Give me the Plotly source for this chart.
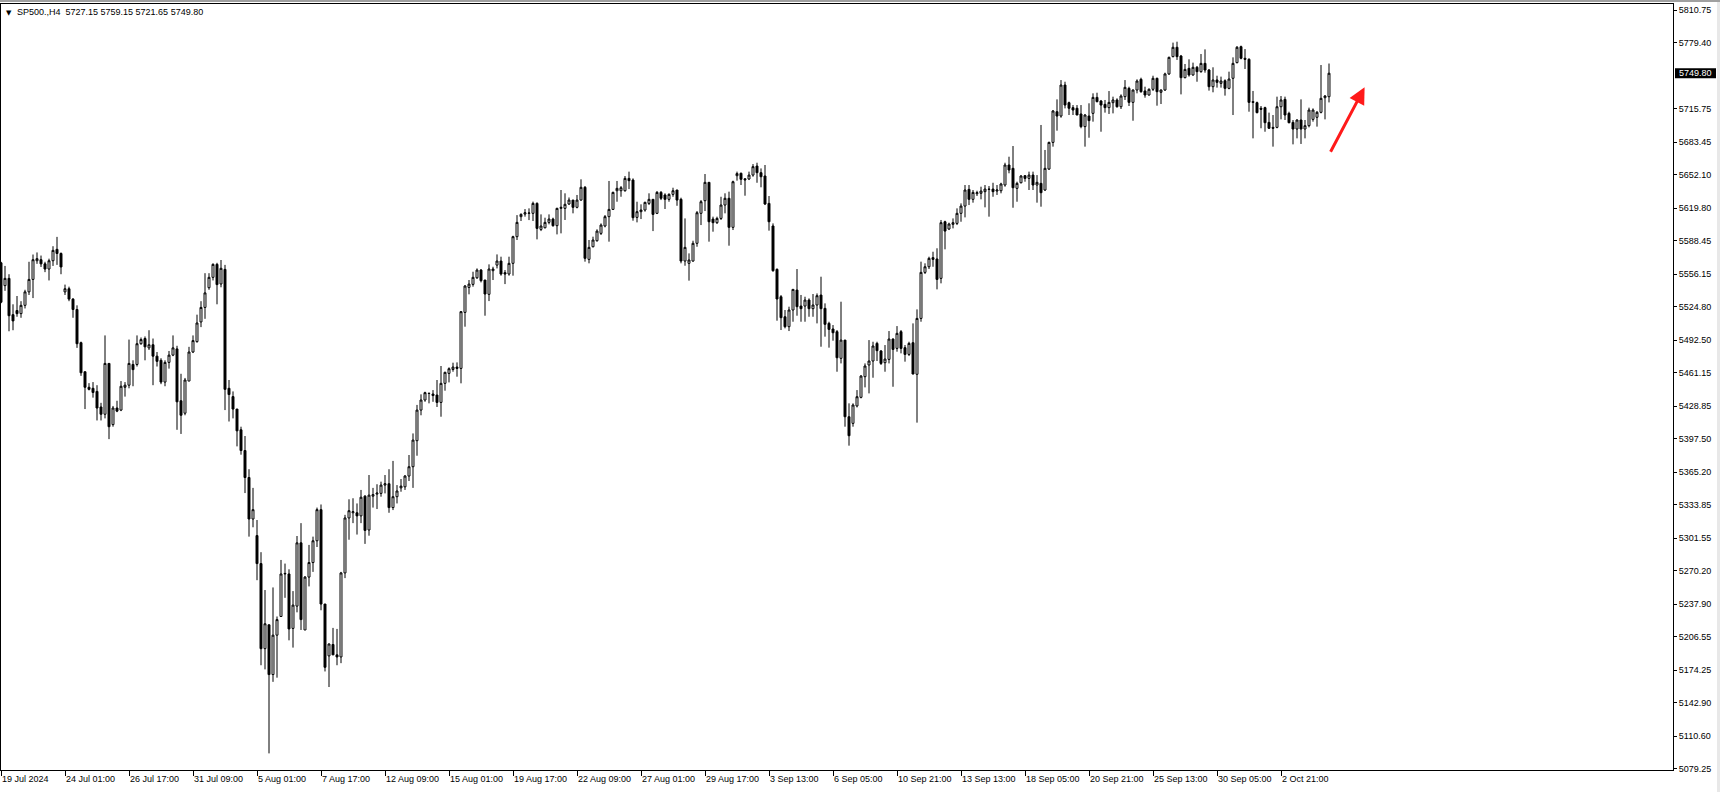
import plotly.graph_objects as go

symbol = "SP500.,H4"

open_ = [
    5567, 5545, 5552, 5517, 5521, 5518, 5526, 5539, 5551, 5569,
    5570, 5566, 5561, 5569, 5580, 5576, 5539, 5542, 5532, 5522,
    5490, 5462, 5447, 5446, 5443, 5428, 5421, 5470, 5411, 5427,
    5425, 5447, 5449, 5469, 5469, 5489, 5494, 5485, 5488, 5477,
    5473, 5452, 5471, 5478, 5484, 5434, 5422, 5453, 5481, 5491,
    5510, 5524, 5543, 5553, 5565.5, 5546.6, 5560.7, 5446, 5438, 5426,
    5406, 5386, 5360, 5320, 5304, 5277, 5195, 5218, 5170, 5208,
    5226, 5267, 5267, 5214.5, 5236, 5297, 5213, 5264, 5278, 5299,
    5329, 5238, 5188, 5199, 5189, 5187, 5268, 5321, 5326, 5326,
    5323, 5342, 5309.4, 5342, 5344, 5344.7, 5352.7, 5354, 5331, 5341.5,
    5350, 5351, 5361.4, 5370.4, 5395.5, 5425, 5434.7, 5441, 5440.5, 5439.5,
    5432.4, 5450.8, 5460.4, 5464.2, 5466.5, 5465.2, 5519.2, 5543.3, 5546.2, 5552.6,
    5560, 5550.4, 5536.6, 5559.4, 5564.8, 5568.7, 5557.5, 5556.2, 5566.5, 5592.2,
    5611.5, 5614, 5614.7, 5614.7, 5624.3, 5599.2, 5600.8, 5606, 5609.2, 5602.8,
    5619.5, 5619.5, 5623.7, 5627.5, 5620.5, 5627.5, 5639.8, 5570.3, 5582.5, 5588.3,
    5595.4, 5602.5, 5611.5, 5618.5, 5636.5, 5636.5, 5636.5, 5648.4, 5646.8, 5610.8,
    5616.3, 5617.9, 5624.3, 5628.2, 5614.7, 5634.9, 5632.4, 5628.2, 5633, 5637.2,
    5628.2, 5568.7, 5566.5, 5568.7, 5585.8, 5614.7, 5626.9, 5644.6, 5609.2, 5605.7,
    5609.8, 5622.7, 5629.2, 5601.2, 5651, 5653.3, 5648, 5647.8, 5651.6, 5660.3,
    5653.9, 5650.7, 5624.3, 5602.5, 5560.7, 5534.3, 5515, 5505.4, 5521.5, 5540.7,
    5525.3, 5525.3, 5531.1, 5522.8, 5526.3, 5535.9, 5523.1, 5508.6, 5503.2, 5500.6,
    5474.9, 5492.5, 5418.6, 5412.2, 5429, 5437.3, 5457.2, 5468.5, 5472.3, 5489.3,
    5482, 5470.7, 5473.9, 5493.5, 5484.5, 5500.6, 5485.2, 5478.7, 5490, 5459.5,
    5513.4, 5557.8, 5563.2, 5572, 5570.7, 5552, 5606.6, 5599.6, 5604.1, 5605,
    5614.7, 5621.7, 5637.8, 5628.2, 5633.6, 5634, 5635.6, 5638.1, 5638.1, 5636.2,
    5636.5, 5642, 5661.3, 5658.1, 5638.8, 5644.2, 5651, 5648.4, 5651.6, 5642,
    5643.6, 5637.2, 5657.4, 5683.1, 5712.7, 5708.5, 5738.4, 5721.4, 5716.6, 5716,
    5710.5, 5698.3, 5708.5, 5711.1, 5726.5, 5723, 5719.8, 5716.6, 5721.4, 5724,
    5717.5, 5727.2, 5735.2, 5721.7, 5733.6, 5743.9, 5732.7, 5728.8, 5734.3, 5744.9,
    5731.4, 5733.6, 5749.1, 5765.8, 5774.8, 5766.4, 5745.5, 5754.5, 5748.1, 5755.5,
    5751.3, 5759.3, 5752.9, 5736.8, 5743.3, 5740, 5742.6, 5735.2, 5744.9, 5760,
    5775.4, 5764.2, 5763.2, 5722.4, 5721.4, 5716, 5716.6, 5702.4, 5697.6, 5697.6,
    5717.5, 5724.6, 5711.1, 5702.4, 5696, 5704.7, 5696, 5699.2, 5705.3, 5707.3,
    5712.1, 5726.2, 5727.15,
]

high = [
    5568, 5564, 5556, 5527, 5535, 5530, 5541, 5568, 5575, 5577,
    5574, 5568, 5571, 5583, 5592, 5577, 5546, 5544, 5533, 5526,
    5491, 5462, 5451, 5452, 5449, 5432, 5497, 5470, 5429, 5434,
    5453, 5452, 5493, 5473, 5497, 5495, 5496, 5502, 5494, 5481,
    5475, 5473, 5482, 5497, 5487, 5460, 5456, 5486, 5497, 5517,
    5530, 5557, 5557, 5566.5, 5567, 5569.7, 5565, 5454, 5443, 5426,
    5409, 5400, 5368, 5350, 5319, 5288, 5251.5, 5218, 5254, 5226,
    5280.5, 5277, 5271.5, 5250.5, 5303.6, 5316, 5265, 5295, 5303, 5331,
    5334, 5238, 5200, 5215, 5214, 5269, 5324, 5339, 5340, 5335,
    5348, 5343, 5362.4, 5350, 5353.5, 5356, 5362.4, 5368, 5376, 5352.7,
    5358.5, 5362.4, 5381.7, 5402.5, 5430, 5440.2, 5442.7, 5441.5, 5444.3, 5454,
    5467.5, 5462, 5466.2, 5470.7, 5471, 5520.5, 5545.6, 5550.4, 5558.4, 5561.6,
    5561, 5550.4, 5565.5, 5563.2, 5575.1, 5572.9, 5560, 5572.9, 5593.1, 5613,
    5614.7, 5618.8, 5619.5, 5626, 5625.3, 5613.7, 5610.5, 5613.7, 5610.5, 5620.1,
    5637.2, 5634, 5630, 5627.5, 5632.4, 5647.5, 5641, 5589, 5592.2, 5599.3,
    5605, 5613.1, 5645.9, 5635.6, 5645.9, 5641, 5650.7, 5654.9, 5648.4, 5625.9,
    5623.4, 5625.9, 5634, 5628.2, 5636.2, 5636.2, 5634, 5634, 5639.4, 5637.2,
    5629.8, 5609.8, 5576.1, 5588.3, 5616.9, 5627.5, 5652.6, 5644.6, 5611.5, 5611.5,
    5630.7, 5634, 5635.6, 5646.2, 5654.9, 5654, 5648.4, 5654.9, 5662.2, 5663.5,
    5658, 5661.3, 5631.4, 5605, 5561.6, 5535.9, 5521.5, 5524.7, 5541.4, 5561,
    5536, 5534.3, 5532.7, 5536.9, 5537.5, 5553.6, 5527.9, 5510.2, 5507, 5502.2,
    5529.5, 5492.5, 5431.5, 5431.5, 5444.3, 5458.8, 5470, 5492.5, 5490.9, 5490.9,
    5482.9, 5487.7, 5501.2, 5494.2, 5506, 5502.2, 5487.7, 5490.9, 5508.6, 5522.1,
    5568.1, 5566.5, 5572.9, 5577.7, 5581, 5608.3, 5607.6, 5605.7, 5609.8, 5619.5,
    5624.3, 5642, 5642, 5637.2, 5636.5, 5640.4, 5642, 5641, 5644.2, 5642,
    5644.2, 5663.5, 5669.3, 5679.6, 5645.2, 5651.6, 5651.6, 5654.9, 5654.9, 5651.6,
    5699.9, 5675.8, 5683.8, 5714.3, 5724.6, 5743.2, 5741.6, 5722.4, 5719.1, 5719.1,
    5719.1, 5710.5, 5720.8, 5730.4, 5731, 5724, 5724, 5732.6, 5727.2, 5725.6,
    5729.4, 5743.2, 5736.8, 5734.2, 5743.9, 5745.5, 5736.8, 5735.2, 5747.4, 5745.5,
    5734.2, 5750.3, 5765.8, 5779.3, 5780.2, 5767.4, 5758.7, 5763.2, 5760, 5756.8,
    5768.3, 5772.8, 5753.9, 5755.5, 5747.4, 5746.5, 5743.9, 5751.3, 5765.1, 5776,
    5776.4, 5773.1, 5764.2, 5732.7, 5722.4, 5718.2, 5717.5, 5711.8, 5709.5, 5727.2,
    5727.8, 5727.2, 5712.7, 5704.7, 5705.3, 5724.6, 5704.7, 5716.6, 5715.9, 5713.4,
    5757.7, 5728.8, 5759.15,
]

low = [
    5528, 5540, 5501, 5502, 5515, 5514, 5523, 5536, 5533, 5566,
    5563, 5558, 5550, 5564, 5565, 5556, 5536, 5530, 5514, 5485,
    5458, 5426, 5444, 5437, 5415, 5415, 5417, 5397, 5409, 5423,
    5424, 5438, 5446, 5448, 5467, 5488, 5473, 5483, 5449, 5467,
    5450, 5448, 5465, 5477, 5406, 5402, 5420, 5453, 5480, 5490,
    5505, 5513, 5541, 5550, 5527, 5543.4, 5425, 5414, 5417, 5390,
    5382, 5345, 5303, 5312, 5261, 5179, 5175, 5094, 5163, 5167,
    5226, 5244, 5203, 5196, 5230, 5213, 5213, 5255, 5269, 5293,
    5232, 5173, 5158, 5189, 5179, 5181, 5263, 5300, 5316, 5305,
    5316, 5296, 5303.9, 5331, 5329.6, 5341.5, 5344.7, 5326, 5328.6, 5335,
    5346.3, 5348, 5356.6, 5350, 5381, 5420, 5433, 5431.5, 5433, 5428,
    5418.6, 5443.7, 5451.7, 5462, 5457.2, 5450.8, 5505.4, 5536.6, 5544, 5551.4,
    5548.1, 5516, 5530.1, 5550.4, 5561.6, 5554.6, 5546.5, 5554.6, 5554.6, 5589,
    5607.3, 5611.5, 5608.2, 5607.3, 5589.6, 5597.6, 5600.2, 5604.1, 5601.8, 5594.4,
    5595.4, 5608.3, 5622.7, 5614.7, 5619.5, 5626.9, 5568.1, 5566.5, 5581.9, 5587.4,
    5593.8, 5601.2, 5587.4, 5617.9, 5625.9, 5630.7, 5635.6, 5638.1, 5607.6, 5606,
    5609.2, 5616.3, 5622.7, 5597.6, 5614, 5627.5, 5618.9, 5625.9, 5630.7, 5622,
    5566.5, 5564.2, 5549.8, 5568.1, 5582.5, 5603.4, 5616.9, 5587.4, 5597, 5604.4,
    5608.3, 5614.7, 5583.5, 5598.6, 5646.2, 5642, 5631.7, 5646.8, 5650, 5644.2,
    5639.8, 5622.7, 5598, 5558.4, 5511.2, 5502.2, 5503.8, 5501.2, 5510.2, 5516,
    5510.2, 5510.2, 5515, 5515, 5508.6, 5486.1, 5495.8, 5485.2, 5491.9, 5462,
    5470, 5409, 5390.7, 5409, 5427.6, 5436.3, 5446.9, 5441.1, 5456.2, 5472.3,
    5468.5, 5462, 5470, 5447.5, 5481.3, 5479.7, 5471.7, 5477.1, 5459.5, 5412.9,
    5510.2, 5556.2, 5561, 5563.2, 5541.4, 5547.2, 5580, 5598.6, 5600.2, 5603.4,
    5606.6, 5610.8, 5622.7, 5625, 5631.4, 5628.2, 5620.5, 5611.5, 5630.7, 5632.4,
    5634, 5640.4, 5653.3, 5620.1, 5625.9, 5643.6, 5645.2, 5637.2, 5637.2, 5625,
    5621.1, 5636.2, 5656.5, 5679, 5694.4, 5706.9, 5715.9, 5709.5, 5709.5, 5709.5,
    5696.7, 5679, 5687.6, 5703.1, 5721.7, 5693.4, 5711.8, 5710.5, 5711.1, 5716.6,
    5715.3, 5724, 5718.2, 5704, 5730.4, 5731, 5726.2, 5728.2, 5732.7, 5718.5,
    5720.1, 5732.7, 5748.1, 5765.1, 5762.6, 5729.4, 5744.9, 5746.5, 5747.4, 5741.6,
    5750.3, 5750.3, 5733, 5731.4, 5735.9, 5735.9, 5728.2, 5734.3, 5709.5, 5759.3,
    5763.2, 5753.9, 5712.7, 5687, 5711.1, 5696.7, 5693.4, 5696, 5679, 5696.7,
    5705.3, 5704.7, 5701.5, 5681.2, 5687, 5681.6, 5687, 5697.6, 5703.1, 5698.3,
    5711.1, 5705.3, 5721.65,
]

close = [
    5529, 5552, 5516, 5511, 5518, 5526, 5539, 5551, 5570, 5571,
    5566, 5561, 5569, 5579, 5576, 5563, 5542, 5532, 5522, 5489,
    5461, 5447, 5445, 5442, 5427, 5421, 5470, 5409, 5427, 5424,
    5448, 5449, 5470, 5464, 5489, 5493, 5486, 5488, 5477, 5472,
    5452, 5471, 5478, 5485, 5433, 5420, 5454, 5481, 5492, 5509,
    5524, 5538, 5553, 5565.5, 5546, 5561.7, 5445, 5440, 5426, 5405,
    5386, 5360, 5320, 5329, 5277, 5195, 5219, 5170, 5208, 5223,
    5267, 5267.5, 5214, 5237, 5297, 5223, 5264, 5278, 5299, 5329,
    5238, 5177, 5199.5, 5189, 5187, 5268, 5321, 5328, 5327, 5323,
    5341, 5309, 5343, 5343.5, 5345, 5352.7, 5354, 5331, 5341.5, 5347,
    5351.7, 5361.4, 5370.4, 5396.1, 5425, 5434.7, 5441.8, 5441.2, 5439, 5432.4,
    5450.8, 5461.4, 5464.9, 5466.5, 5465.2, 5519.9, 5544.6, 5546.5, 5553, 5560,
    5549.8, 5536.9, 5561, 5561, 5568.7, 5556.2, 5556.2, 5566.5, 5592.2, 5606,
    5613.7, 5615.3, 5615, 5624.3, 5600.2, 5602.5, 5606, 5609.2, 5602.8, 5619.5,
    5620.5, 5623.4, 5627.5, 5620.5, 5627.5, 5639.8, 5571.3, 5581.9, 5589, 5597.6,
    5603.4, 5611.5, 5618.5, 5634.9, 5638.8, 5639.4, 5648.4, 5646.2, 5610.5, 5616.3,
    5617.9, 5625.3, 5628.2, 5613.7, 5634.9, 5629.2, 5628.2, 5633, 5636.5, 5627.5,
    5568.7, 5581.9, 5569.7, 5585.8, 5615.3, 5625.9, 5644.6, 5606.6, 5605.7, 5609.8,
    5622.7, 5629.2, 5601.2, 5645.2, 5653, 5647.5, 5647, 5651.6, 5659.7, 5653.9,
    5650, 5623.7, 5606.6, 5559.4, 5532.1, 5514.1, 5505.4, 5521.5, 5541.4, 5524.7,
    5522.8, 5531.1, 5522.8, 5526.3, 5535.3, 5522.8, 5507.7, 5502.8, 5499.6, 5475.5,
    5492.5, 5418.6, 5400.3, 5429.9, 5437.9, 5457.8, 5467.5, 5472.3, 5486.8, 5482.3,
    5470, 5474.2, 5493.5, 5483.5, 5499, 5484.5, 5478.7, 5489.3, 5459.8, 5513.4,
    5557.8, 5563.2, 5571.3, 5570.3, 5551, 5605.7, 5597.6, 5604.4, 5605.7, 5614.7,
    5621.7, 5637.2, 5628.2, 5634.9, 5634.6, 5636.2, 5638.1, 5637.8, 5635.6, 5637.2,
    5643, 5661.3, 5656.5, 5639.4, 5643.6, 5650.7, 5648.4, 5651.6, 5642, 5644.6,
    5634.6, 5658.1, 5683.1, 5713.4, 5708.5, 5738.4, 5719.1, 5716, 5714.3, 5709.5,
    5698.3, 5709.5, 5704.1, 5726.5, 5722.4, 5719.1, 5716.6, 5721.7, 5724, 5717.5,
    5727.8, 5736.2, 5721.7, 5733.6, 5742.3, 5732, 5728.8, 5734.3, 5744.9, 5732,
    5733.6, 5749.1, 5765.1, 5774.8, 5765.8, 5745.5, 5753.5, 5748.1, 5755.5, 5751.3,
    5759.3, 5752.9, 5736.8, 5743.3, 5741, 5742.3, 5735.2, 5744.2, 5759.3, 5774.8,
    5764.2, 5763.2, 5721.7, 5721.7, 5711.8, 5715, 5702.1, 5696.7, 5696.7, 5717.5,
    5724, 5709.5, 5702.1, 5696, 5704.7, 5696, 5699.2, 5714.3, 5714.3, 5712.1,
    5725.6, 5727.8, 5749.80,
]

time_labels = [
    "19 Jul 2024", "24 Jul 01:00", "26 Jul 17:00", "31 Jul 09:00", "5 Aug 01:00",
    "7 Aug 17:00", "12 Aug 09:00", "15 Aug 01:00", "19 Aug 17:00", "22 Aug 09:00",
    "27 Aug 01:00", "29 Aug 17:00", "3 Sep 13:00", "6 Sep 05:00", "10 Sep 21:00",
    "13 Sep 13:00", "18 Sep 05:00", "20 Sep 21:00", "25 Sep 13:00", "30 Sep 05:00",
    "2 Oct 21:00",
]
bars_per_label = 16

price_ticks = [
    5810.75, 5779.40, 5715.75, 5683.45, 5652.10, 5619.80, 5588.45, 5556.15,
    5524.80, 5492.50, 5461.15, 5428.85, 5397.50, 5365.20, 5333.85, 5301.55,
    5270.20, 5237.90, 5206.55, 5174.25, 5142.90, 5110.60, 5079.25,
]

# visible window of the chart (bar index, price)
x_window = [0, 418]
y_window = [5077.99, 5816.54]

# red arrow drawn on the chart (bar index, price)
arrow_tail = (332.2, 5672.6)
arrow_head = (340.9, 5736.2)

FONT = "Liberation Sans, Arial, sans-serif"

bars = list(range(len(close)))

fig = go.Figure(
    go.Candlestick(
        x=bars,
        open=open_,
        high=high,
        low=low,
        close=close,
        increasing=dict(line=dict(color="black", width=1), fillcolor="white"),
        decreasing=dict(line=dict(color="black", width=1), fillcolor="black"),
        whiskerwidth=0,
        showlegend=False,
    )
)

W, H = 1720, 792
ML, MR, MT, MB = 1, 47, 4, 22
plot_w = W - ML - MR
plot_h = H - MT - MB


def px_x(p):
    return (p - ML) / plot_w


def px_y(p):
    return (H - MB - p) / plot_h


fig.update_layout(
    width=W,
    height=H,
    margin=dict(l=ML, r=MR, t=MT, b=MB, pad=0),
    paper_bgcolor="white",
    plot_bgcolor="white",
    boxgap=0.3,
    font=dict(family=FONT, size=9, color="black"),
    showlegend=False,
)

fig.update_xaxes(
    range=x_window,
    tickmode="array",
    tickvals=[i * bars_per_label for i in range(len(time_labels))],
    ticktext=time_labels,
    ticks="outside",
    ticklen=5,
    tickwidth=1,
    tickcolor="black",
    ticklabelposition="outside right",
    tickfont=dict(family=FONT, size=9, color="black"),
    showgrid=False,
    zeroline=False,
    showline=True,
    linecolor="black",
    linewidth=1,
    mirror=True,
    rangeslider=dict(visible=False),
    fixedrange=True,
)

fig.update_yaxes(
    range=y_window,
    side="right",
    tickmode="array",
    tickvals=price_ticks,
    ticktext=[f"{v:.2f}" for v in price_ticks],
    ticks="outside",
    ticklen=3,
    tickwidth=1,
    tickcolor="black",
    tickfont=dict(family=FONT, size=9, color="black"),
    showgrid=False,
    zeroline=False,
    showline=True,
    linecolor="black",
    linewidth=1,
    mirror=True,
    fixedrange=True,
)

last = close[-1]
px_per_price = plot_h / (y_window[1] - y_window[0])
half_box = 5 / px_per_price

shapes = [
    # window frame strips
    dict(type="rect", xref="paper", yref="paper", x0=px_x(0), x1=px_x(W),
         y0=px_y(0), y1=px_y(2), fillcolor="#a0a0a0", line=dict(width=0), layer="above"),
    dict(type="rect", xref="paper", yref="paper", x0=px_x(W - 3), x1=px_x(W),
         y0=px_y(H), y1=px_y(2), fillcolor="#e8e8e8", line=dict(width=0), layer="above"),
    # current price box
    dict(type="rect", xref="paper", yref="y", x0=px_x(1675), x1=px_x(1716),
         y0=last - half_box, y1=last + half_box, fillcolor="black",
         line=dict(width=0), layer="above"),
]
fig.update_layout(shapes=shapes)

annotations = [
    dict(xref="paper", yref="paper", x=px_x(4), y=px_y(13), xanchor="left", yanchor="middle",
         text="▼", showarrow=False, font=dict(family="DejaVu Sans", size=7, color="black")),
    dict(xref="paper", yref="paper", x=px_x(15), y=px_y(12.5), xanchor="left", yanchor="middle",
         text=f"{symbol}  {open_[-1]:.2f} {high[-1]:.2f} {low[-1]:.2f} {close[-1]:.2f}",
         showarrow=False, font=dict(family=FONT, size=9, color="black")),
    dict(xref="paper", yref="y", x=(px_x(1675) + px_x(1716)) / 2, y=last, xanchor="center",
         yanchor="middle", text=f"{last:.2f}", showarrow=False,
         font=dict(family=FONT, size=9, color="white")),
    dict(xref="x", yref="y", x=arrow_head[0], y=arrow_head[1],
         axref="x", ayref="y", ax=arrow_tail[0], ay=arrow_tail[1],
         text="", showarrow=True, arrowhead=2, arrowsize=1.1, arrowwidth=3,
         arrowcolor="#ff1a1a", standoff=0, startstandoff=0),
]
fig.update_layout(annotations=annotations)

fig.write_html(
    "out.html",
    config={"displayModeBar": False},
    post_script="document.body.style.margin='0';document.body.style.overflow='hidden';",
)
